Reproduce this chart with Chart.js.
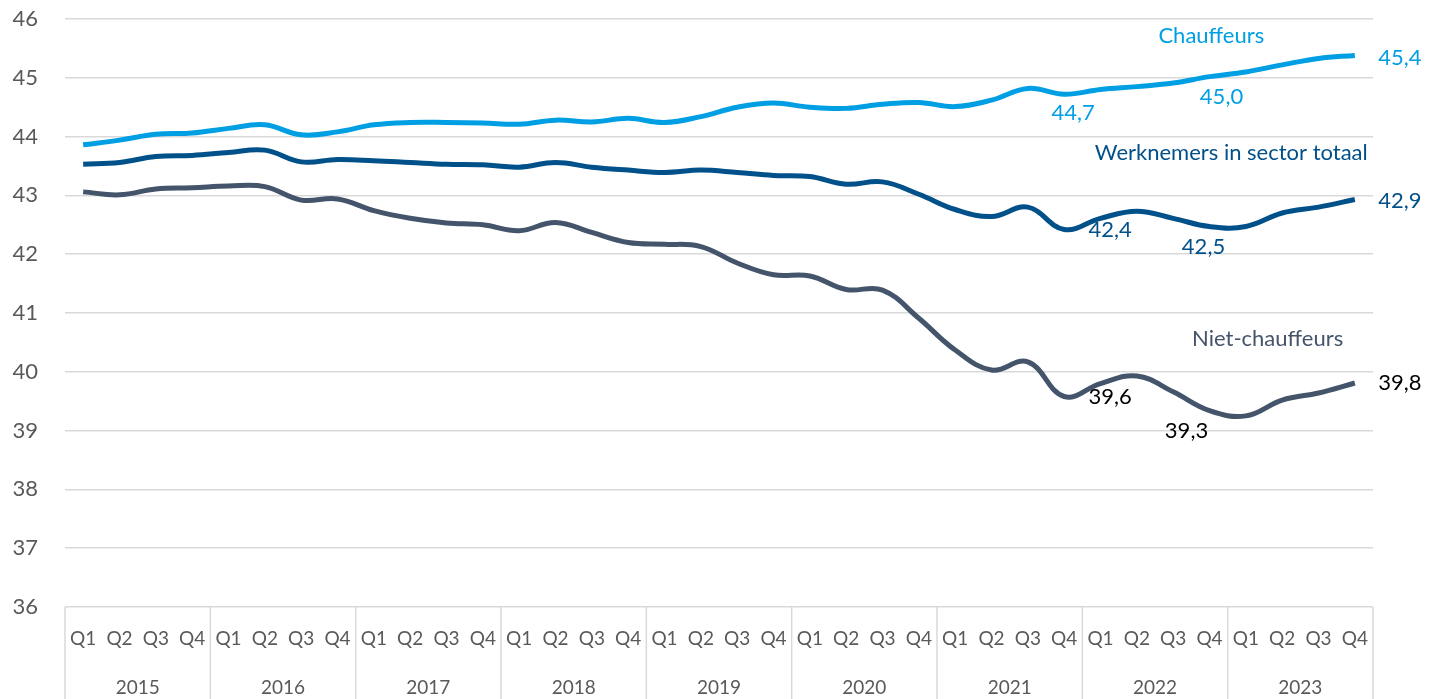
<!DOCTYPE html>
<html>
<head>
<meta charset="utf-8">
<script src="https://cdn.jsdelivr.net/npm/chart.js@4/dist/chart.umd.min.js"></script>
<style>
  body { margin: 0; background: #fff; }
  #wrap { width: 1429px; height: 699px; position: relative; }
</style>
</head>
<body>
<div id="wrap"><canvas id="chart"></canvas></div>
<script>
// ==================
// Data
// ==================
const years = ["2015","2016","2017","2018","2019","2020","2021","2022","2023"];
const quarters = [];
years.forEach(() => quarters.push("Q1","Q2","Q3","Q4"));

const chauffeurs = [
  43.86, 43.94, 44.04, 44.06, 44.14, 44.20, 44.03, 44.08, 44.20, 44.24, 44.24, 44.23,
  44.21, 44.28, 44.25, 44.31, 44.24, 44.34, 44.50, 44.57, 44.50, 44.48, 44.55, 44.58,
  44.51, 44.62, 44.82, 44.72, 44.80, 44.85, 44.91, 45.02, 45.10, 45.22, 45.33, 45.38
];
const werknemers = [
  43.53, 43.56, 43.66, 43.68, 43.73, 43.77, 43.57, 43.61, 43.59, 43.56, 43.53, 43.52,
  43.48, 43.56, 43.48, 43.43, 43.39, 43.43, 43.39, 43.34, 43.32, 43.19, 43.23, 43.02,
  42.76, 42.64, 42.80, 42.42, 42.61, 42.73, 42.61, 42.47, 42.47, 42.70, 42.80, 42.93
];
const nietChauffeurs = [
  43.06, 43.01, 43.11, 43.13, 43.16, 43.15, 42.92, 42.94, 42.74, 42.61, 42.53, 42.50,
  42.40, 42.54, 42.37, 42.20, 42.17, 42.13, 41.85, 41.65, 41.63, 41.40, 41.39, 40.91,
  40.37, 40.03, 40.17, 39.58, 39.80, 39.93, 39.66, 39.34, 39.25, 39.52, 39.64, 39.81
];

// which points get a value label
const labelIndexes = [27, 31, 35];

const FONT = "Lato, 'Open Sans', sans-serif";
const AXIS_GREY = "#595959";
const GRID = "#d9d9d9";

// series styling + where the text goes
const series = [
  { name: "Chauffeurs", data: chauffeurs, color: "#009fe3", labelColor: "#009fe3",
    nameAt: [31.05, 45.71], offsets: [[9, 19], [12, 20], [45, 2]] },
  { name: "Werknemers in sector totaal", data: werknemers, color: "#00508a", labelColor: "#00508a",
    nameAt: [31.6, 43.72], offsets: [[46, 0], [-6, 20], [45, 1]] },
  { name: "Niet-chauffeurs", data: nietChauffeurs, color: "#44546a", labelColor: "#000000",
    nameAt: [32.6, 40.56], offsets: [[46, 0], [-23, 20], [45, 0]] }
];

// ==================
// Plugin: year separators, value labels, series names
// ==================
const extras = {
  id: "extras",
  afterDraw(chart) {
    const ctx = chart.ctx;
    const xs = chart.scales.x, ys = chart.scales.y;
    const area = chart.chartArea;

    ctx.save();
    ctx.strokeStyle = GRID;
    ctx.lineWidth = 1.5;
    for (let k = 0; k <= years.length; k++) {
      let px;
      if (k === 0) px = area.left;
      else if (k === years.length) px = area.right;
      else px = (xs.getPixelForValue(4 * k - 1) + xs.getPixelForValue(4 * k)) / 2;
      ctx.beginPath();
      ctx.moveTo(px, area.bottom);
      ctx.lineTo(px, chart.height);
      ctx.stroke();
    }

    ctx.textAlign = "center";
    ctx.textBaseline = "middle";
    series.forEach((s, di) => {
      const meta = chart.getDatasetMeta(di);
      ctx.fillStyle = s.labelColor;
      ctx.font = "22px " + FONT;
      labelIndexes.forEach((idx, j) => {
        const pt = meta.data[idx];
        const txt = s.data[idx].toFixed(1).replace(".", ",");
        ctx.fillText(txt, pt.x + s.offsets[j][0], pt.y + s.offsets[j][1]);
      });
      ctx.fillStyle = s.color;
      ctx.fillText(s.name, xs.getPixelForValue(s.nameAt[0]), ys.getPixelForValue(s.nameAt[1]));
    });
    ctx.restore();
  }
};

// ==================
// Chart
// ==================
const ctx = document.getElementById("chart").getContext("2d");
new Chart(ctx, {
  type: "line",
  data: {
    labels: quarters,
    datasets: series.map(s => ({
      label: s.name,
      data: s.data,
      borderColor: s.color,
      backgroundColor: s.color,
      borderWidth: 5,
      pointRadius: 0,
      tension: 0.4,
      fill: false
    }))
  },
  options: {
    responsive: true,
    maintainAspectRatio: false,
    animation: false,
    layout: { padding: { top: 19, right: 56, left: 0, bottom: 0 } },
    plugins: { legend: { display: false }, tooltip: { enabled: false } },
    scales: {
      y: {
        min: 36, max: 46,
        ticks: { stepSize: 1, color: AXIS_GREY, font: { family: FONT, size: 22 }, padding: 0 },
        grid: { color: GRID, lineWidth: 1.5, drawTicks: true, tickLength: 27, tickColor: "rgba(0,0,0,0)" },
        border: { display: false },
        afterFit: s => { s.width = 65; s.paddingTop = 0; s.paddingBottom = 0; }
      },
      x: {
        type: "category",
        offset: true,
        weight: 0,
        ticks: { color: AXIS_GREY, font: { family: FONT, size: 19 }, padding: 12, maxRotation: 0, autoSkip: false },
        grid: { display: false },
        border: { display: false },
        afterFit: s => { s.height = 50; }
      },
      x2: {
        type: "category",
        position: "bottom",
        labels: years,
        offset: true,
        weight: 1,
        ticks: { color: AXIS_GREY, font: { family: FONT, size: 19 }, padding: 11, maxRotation: 0, autoSkip: false },
        grid: { display: false },
        border: { display: false },
        afterFit: s => { s.height = 42; }
      }
    }
  },
  plugins: [extras]
});
</script>
</body>
</html>
